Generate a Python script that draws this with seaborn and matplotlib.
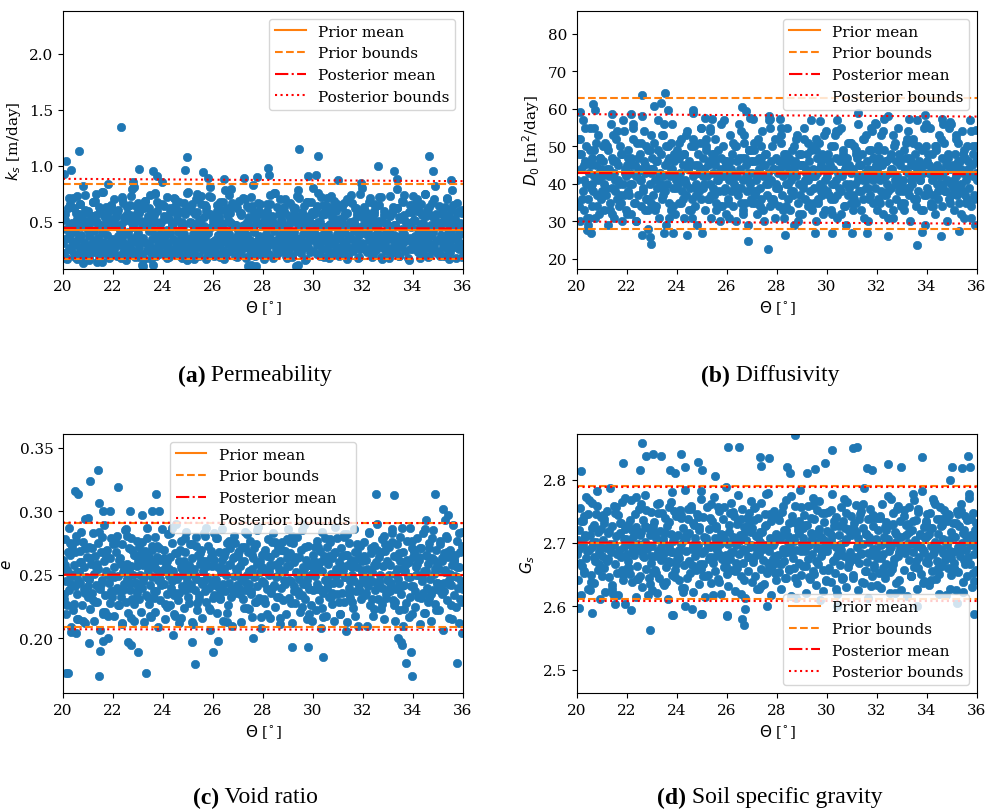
import numpy as np
import pandas as pd
import matplotlib
matplotlib.use("Agg")
import matplotlib.pyplot as plt
import seaborn as sns

# ---------------------------------------------------------------------------
# Sampled friction angle (deg) shared by the four parameter scatters
# ---------------------------------------------------------------------------
theta = np.array("""
20.01 20.04 20.08 20.11 20.13 20.17 20.22 20.24 20.27 20.31 20.35 20.37 20.42 20.44 20.48 20.52 20.55 20.58 20.61 20.66 20.68 20.71 20.75 20.79 20.82 20.84 20.88 20.92 20.95 20.98
21.02 21.06 21.09 21.12 21.16 21.19 21.23 21.25 21.29 21.33 21.36 21.39 21.41 21.46 21.49 21.53 21.56 21.59 21.63 21.65 21.69 21.72 21.76 21.78 21.83 21.86 21.89 21.93 21.96 21.99
22.03 22.05 22.1 22.14 22.16 22.2 22.23 22.27 22.3 22.34 22.37 22.4 22.43 22.47 22.5 22.54 22.57 22.6 22.64 22.67 22.7 22.73 22.77 22.8 22.84 22.87 22.9 22.94 22.97 22.99
23.01 23.04 23.07 23.11 23.15 23.18 23.21 23.25 23.28 23.31 23.34 23.38 23.42 23.45 23.48 23.51 23.55 23.58 23.62 23.66 23.69 23.72 23.74 23.78 23.81 23.85 23.88 23.91 23.95 23.98
24.02 24.06 24.08 24.13 24.16 24.19 24.22 24.26 24.29 24.32 24.36 24.39 24.43 24.46 24.49 24.52 24.56 24.6 24.63 24.65 24.7 24.73 24.76 24.79 24.83 24.86 24.89 24.92 24.96 24.99
25.03 25.05 25.09 25.12 25.15 25.2 25.23 25.26 25.3 25.33 25.35 25.4 25.44 25.47 25.5 25.53 25.57 25.61 25.64 25.68 25.71 25.74 25.77 25.81 25.84 25.87 25.91 25.94 25.97 25.99
26.02 26.05 26.09 26.11 26.15 26.18 26.22 26.25 26.28 26.32 26.35 26.38 26.41 26.45 26.48 26.52 26.55 26.59 26.62 26.65 26.69 26.72 26.75 26.78 26.82 26.85 26.88 26.92 26.95 26.98
27.01 27.04 27.07 27.1 27.14 27.17 27.21 27.24 27.27 27.3 27.34 27.37 27.4 27.44 27.47 27.51 27.54 27.57 27.6 27.64 27.67 27.71 27.74 27.77 27.81 27.84 27.87 27.91 27.94 27.97
28.03 28.06 28.09 28.12 28.16 28.19 28.23 28.26 28.29 28.33 28.36 28.39 28.42 28.46 28.49 28.53 28.56 28.59 28.62 28.66 28.69 28.73 28.76 28.79 28.82 28.86 28.89 28.93 28.96 28.99
29.02 29.05 29.08 29.11 29.15 29.18 29.22 29.25 29.28 29.32 29.35 29.38 29.42 29.45 29.48 29.51 29.55 29.58 29.61 29.65 29.68 29.71 29.75 29.78 29.81 29.85 29.88 29.91 29.95 29.98
30.01 30.04 30.08 30.11 30.14 30.17 30.21 30.24 30.27 30.31 30.34 30.37 30.41 30.44 30.47 30.5 30.54 30.57 30.6 30.64 30.67 30.7 30.74 30.77 30.8 30.84 30.87 30.9 30.94 30.97
31.02 31.05 31.09 31.12 31.15 31.19 31.22 31.25 31.29 31.32 31.35 31.39 31.42 31.45 31.49 31.52 31.55 31.59 31.62 31.65 31.69 31.72 31.75 31.79 31.82 31.85 31.89 31.92 31.95 31.99
32.01 32.04 32.07 32.11 32.14 32.17 32.21 32.24 32.27 32.31 32.34 32.37 32.41 32.44 32.47 32.51 32.54 32.57 32.61 32.64 32.67 32.71 32.74 32.77 32.81 32.84 32.87 32.91 32.94 32.97
33.02 33.06 33.09 33.12 33.16 33.19 33.22 33.26 33.29 33.32 33.36 33.39 33.42 33.46 33.49 33.52 33.56 33.59 33.62 33.66 33.69 33.72 33.76 33.79 33.82 33.86 33.89 33.92 33.96 33.99
34.01 34.05 34.08 34.11 34.15 34.18 34.21 34.25 34.28 34.31 34.35 34.38 34.41 34.45 34.48 34.51 34.55 34.58 34.61 34.65 34.68 34.71 34.75 34.78 34.81 34.85 34.88 34.91 34.95 34.98
35.02 35.05 35.08 35.12 35.15 35.18 35.22 35.25 35.28 35.32 35.35 35.38 35.42 35.45 35.48 35.52 35.55 35.58 35.62 35.65 35.68 35.72 35.75 35.78 35.82 35.85 35.88 35.92 35.95 35.99
20.06 20.15 20.26 20.33 20.46 20.57 20.63 20.74 20.86 20.97 21.04 21.14 21.27 21.38 21.44 21.55 21.67 21.74 21.85 21.94
22.08 22.18 22.25 22.36 22.45 22.52 22.66 22.75 22.83 22.96 23.03 23.13 23.24 23.36 23.47 23.53 23.64 23.77 23.83 23.93
24.04 24.17 24.24 24.35 24.44 24.58 24.67 24.74 24.85 24.94 25.07 25.14 25.25 25.37 25.46 25.55 25.66 25.76 25.86 25.93
26.04 26.13 26.27 26.36 26.43 26.57 26.64 26.73 26.84 26.97 27.06 27.16 27.26 27.33 27.45 27.56 27.66 27.76 27.83 27.95
28.05 28.14 28.25 28.35 28.44 28.55 28.64 28.75 28.85 28.94 29.04 29.16 29.24 29.36 29.46 29.54 29.66 29.74 29.86 29.96
30.06 30.15 30.26 30.35 30.46 30.55 30.65 30.76 30.86 30.95 31.04 31.16 31.26 31.36 31.44 31.56 31.66 31.74 31.84 31.96
32.05 32.16 32.25 32.36 32.45 32.56 32.66 32.75 32.86 32.95 33.04 33.14 33.25 33.35 33.45 33.55 33.65 33.75 33.85 33.95
34.06 34.16 34.26 34.36 34.44 34.56 34.66 34.76 34.86 34.96 35.06 35.14 35.26 35.36 35.44 35.56 35.64 35.74 35.84 35.94
20.03 20.19 20.29 20.39 20.51 20.6 20.69 20.81 20.9 20.99 21.08 21.21 21.31 21.42 21.51 21.61 21.7 21.8 21.91 21.98
22.02 22.12 22.22 22.32 22.41 22.55 22.62 22.72 22.82 22.92 23.06 23.16 23.27 23.39 23.44 23.56 23.67 23.76 23.87 23.97
24.07 24.14 24.27 24.37 24.47 24.57 24.62 24.77 24.87 24.97 25.02 25.17 25.27 25.32 25.42 25.52 25.62 25.72 25.82 25.96
26.07 26.16 26.24 26.33 26.47 26.54 26.67 26.77 26.87 26.94 27.03 27.12 27.22 27.36 27.42 27.52 27.62 27.72 27.86 27.92
28.02 28.17 28.27 28.37 28.47 28.57 28.67 28.72 28.87 28.97 29.07 29.13 29.27 29.34 29.43 29.57 29.63 29.77 29.83 29.93
30.03 30.18 30.28 30.38 30.43 30.58 30.68 30.73 30.83 30.92 31.07 31.14 31.24 31.34 31.47 31.54 31.64 31.77 31.87 31.94
32.03 32.13 32.23 32.33 32.43 32.53 32.63 32.73 32.83 32.93 33.07 33.17 33.27 33.37 33.43 33.57 33.63 33.73 33.87 33.97
34.03 34.13 34.23 34.33 34.47 34.53 34.63 34.73 34.83 34.93 35.03 35.17 35.23 35.34 35.47 35.53 35.67 35.77 35.87 35.97
""".split(), float)

# Permeability k_s [m/day]
ks = np.array("""
.31 .22 .57 .18 .44 .36 .27 .71 .39 .25 .49 .33 .62 .21 .41 .29 .17 .53 .35 .24 .66 .38 .28 .82 .46 .32 .2 .58 .26 .43
.37 .19 .52 .3 .24 .68 .42 .34 .23 .75 .29 .47 .36 .16 .61 .27 .4 .32 .22 .55 .45 .26 .38 .84 .31 .5 .21 .64 .35 .28
.25 .48 .33 .2 .59 .37 .29 .43 .18 .72 .34 .23 .51 .39 .27 .63 .3 .41 .22 .56 .36 .26 .79 .45 .32 .19 .54 .38 .24 .67
.4 .28 .61 .33 .21 .47 .36 .17 .69 .31 .25 .53 .42 .3 .23 .58 .35 .44 .27 .76 .38 .2 .5 .32 .26 .65 .39 .22 .86 .34
.29 .55 .37 .23 .43 .31 .19 .62 .4 .26 .48 .35 .22 .7 .33 .28 .52 .41 .24 .6 .36 .3 .18 .46 .39 .27 .57 .34 .21 .77
.35 .24 .5 .3 .66 .39 .21 .44 .33 .27 .59 .37 .2 .48 .31 .73 .42 .25 .54 .36 .17 .63 .29 .4 .23 .81 .45 .32 .26 .51
.27 .46 .34 .22 .6 .38 .29 .52 .19 .41 .32 .68 .25 .43 .36 .21 .56 .3 .74 .39 .24 .49 .35 .28 .64 .33 .2 .47 .37 .26
.43 .3 .23 .58 .36 .26 .71 .4 .32 .19 .5 .38 .27 .62 .34 .22 .45 .31 .83 .41 .25 .55 .33 .29 .67 .37 .21 .48 .28 .35
.32 .57 .24 .39 .28 .45 .21 .66 .36 .3 .53 .18 .42 .33 .76 .26 .47 .35 .23 .61 .38 .29 .51 .4 .25 .7 .34 .2 .44 .31
.38 .26 .49 .33 .2 .63 .41 .29 .55 .36 .24 .78 .3 .46 .35 .22 .59 .39 .27 .52 .32 .17 .68 .43 .28 .37 .23 .56 .34 .8
.24 .42 .35 .61 .29 .21 .5 .37 .31 .72 .26 .45 .38 .19 .57 .33 .27 .64 .4 .23 .48 .36 .3 .54 .22 .69 .34 .28 .46 .39
.36 .28 .53 .22 .44 .33 .67 .25 .4 .3 .58 .2 .47 .37 .27 .74 .35 .24 .51 .42 .29 .62 .32 .18 .45 .38 .26 .85 .31 .41
.3 .48 .26 .39 .58 .23 .43 .34 .71 .28 .52 .37 .21 .6 .33 .25 .46 .4 .29 .65 .35 .19 .5 .38 .27 .56 .32 .24 .42 .36
.41 .27 .55 .35 .22 .63 .38 .3 .47 .25 .79 .33 .2 .53 .37 .28 .44 .31 .68 .39 .24 .5 .34 .18 .59 .36 .26 .45 .32 .73
.26 .52 .37 .31 .6 .23 .44 .35 .28 .66 .4 .21 .49 .33 .75 .27 .42 .36 .19 .57 .3 .38 .25 .54 .41 .29 .82 .34 .22 .47
.34 .24 .45 .38 .62 .29 .2 .51 .36 .27 .7 .4 .31 .55 .23 .43 .35 .65 .28 .48 .37 .18 .58 .33 .26 .44 .39 .3 .61 .25
.52 .17 .66 .48 .19 .73 .57 .21 .61 .47 .16 .55 .69 .5 .2 .77 .46 .63 .18 .53
.6 .47 .2 .7 .54 .16 .65 .49 .81 .58 .19 .51 .62 .46 .74 .17 .56 .68 .21 .5
.64 .18 .53 .47 .71 .59 .2 .48 .67 .16 .49 .6 .17 .75 .52 .45 .65 .19 .57 .72
.2 .56 .68 .48 .17 .62 .51 .79 .46 .19 .58 .46 .7 .18 .54 .64 .2 .5 .6 .47
.17 .66 .52 .49 .76 .21 .57 .45 .63 .18 .55 .19 .61 .73 .47 .53 .16 .68 .5 .59
.48 .64 .2 .56 .45 .71 .18 .6 .52 .66 .2 .5 .58 .17 .69 .47 .62 .55 .19 .8
.63 .46 .54 .19 .66 .5 .72 .17 .57 .48 .18 .59 .47 .62 .2 .54 .74 .49 .16 .65
.51 .7 .18 .56 .46 .61 .2 .67 .53 .47 .2 .57 .63 .49 .17 .78 .52 .45 .6 .19
.55 .62 .48 .71 .58 .46 .66 .52 .74 .6 .49 .68 .56 .63 .47 .77 .53 .59 .65 .5
.7 .54 .61 .47 .67 .57 .52 .73 .49 .64 .58 .46 .69 .55 .62 .51 .75 .6 .48 .66
.53 .72 .59 .47 .64 .56 .68 .5 .61 .76 .63 .49 .57 .7 .52 .66 .46 .6 .73 .55
.48 .65 .54 .61 .78 .5 .58 .67 .47 .62 .69 .56 .47 .64 .53 .72 .59 .49 .66 .57
.51 .6 .74 .55 .48 .63 .7 .52 .58 .46 .67 .53 .62 .49 .71 .57 .64 .47 .55 .68
.57 .76 .5 .65 .59 .46 .62 .73 .53 .6 .46 .63 .55 .7 .5 .67 .48 .58 .75 .54
.61 .52 .68 .47 .57 .64 .51 .72 .6 .49 .73 .58 .46 .62 .54 .69 .56 .5 .65 .59
.52 .66 .6 .48 .75 .55 .63 .47 .7 .57 .64 .5 .57 .71 .47 .61 .53 .67 .49 .58
""".split(), float)
ks_extra_theta = [22.32, 20.65, 20.12, 20.3, 20.02, 23.03, 23.59, 23.75, 24.88, 24.95, 25.59, 25.79, 26.43,
                  27.25, 27.75, 28.21, 28.25, 29.45, 29.81, 30.12, 30.21, 32.59, 33.25, 33.35, 34.65, 34.81,
                  22.8, 31.0, 35.5, 23.15, 27.4, 27.52, 29.3, 20.8, 21.56, 21.35, 23.6, 27.7, 29.4, 23.2]
ks_extra = [1.344, 1.133, 1.044, 0.964, 0.93, 0.968, 0.95, 0.91, 0.962, 1.075, 0.947, 0.89, 0.88,
            0.888, 0.897, 0.977, 0.917, 1.154, 0.911, 0.917, 1.089, 1.0, 0.95, 0.882, 1.083, 0.95,
            0.86, 0.87, 0.87, 0.112, 0.11, 0.115, 0.11, 0.136, 0.14, 0.145, 0.12, 0.11, 0.115, 0.105]

# Diffusivity D_0 [m^2/day]
d0 = np.array("""
41 35 48 30 52 44 38 57 33 46 40 50 36 29 43 55 39 47 34 42 49 31 45 37 53 41 32 47 44 38
46 33 40 51 37 44 29 49 42 35 56 39 47 31 43 38 52 36 45 41 34 50 48 30 40 54 37 43 33 45
38 49 43 32 47 40 55 35 45 42 30 51 37 44 48 34 41 58 39 46 33 43 50 36 28 44 40 53 35 47
44 37 51 41 34 46 39 57 31 43 48 36 42 53 38 45 29 40 50 35 47 42 33 44 56 39 46 32 41 49
40 47 35 43 52 38 45 31 48 41 37 54 44 33 46 39 50 36 42 59 34 45 40 29 48 43 38 51 36 44
47 39 44 33 50 42 36 46 55 40 31 48 43 37 45 52 35 41 49 38 30 44 47 34 42 57 39 46 32 43
36 45 41 53 38 48 34 43 40 50 30 46 42 37 56 44 39 47 33 41 51 35 45 38 43 29 49 40 46 35
43 38 49 35 46 41 32 52 44 39 47 36 54 42 30 45 40 48 37 43 58 34 46 41 50 36 44 31 47 39
39 46 34 44 51 37 42 48 31 45 40 55 36 43 47 33 41 49 38 44 29 46 42 53 35 40 48 37 45 32
45 40 52 36 43 48 34 41 46 38 57 33 44 50 39 42 30 47 43 35 51 40 45 37 48 32 44 41 54 38
42 48 37 45 33 50 40 44 36 53 41 47 31 43 39 46 55 38 42 49 34 44 40 29 47 37 45 51 35 43
37 44 50 40 35 47 42 56 38 45 33 48 41 36 52 43 39 46 30 44 49 37 42 54 35 41 47 39 45 33
44 36 47 41 53 38 45 32 49 42 37 46 40 58 35 43 48 39 44 31 50 41 36 46 42 55 38 45 34 40
41 49 35 44 39 52 43 37 47 30 45 40 51 36 42 48 34 44 57 38 46 41 33 49 43 37 45 29 50 39
46 38 43 55 35 41 48 37 44 32 50 40 45 36 53 42 39 47 34 43 51 38 45 41 30 48 36 44 56 40
39 45 33 48 42 37 51 44 35 46 40 54 38 43 31 47 41 36 50 44 39 57 34 45 42 48 37 29 46 41
34 48 41 55 31 45 38 51 43 36 50 39 44 32 53 46 40 35 57 42
37 45 52 30 47 41 54 36 49 43 44 33 49 40 56 38 46 51 34 42
47 41 36 53 44 31 50 39 45 55 40 52 45 37 48 33 43 56 38 46
35 46 42 50 39 54 32 47 41 49 51 38 47 34 45 42 57 36 44 40
43 55 33 48 40 46 37 52 30 45 39 44 51 42 35 49 44 38 53 47
46 36 40 54 43 32 48 45 39 51 33 49 45 38 52 41 36 55 47 42
50 42 37 46 31 44 53 40 48 35 38 47 54 41 45 36 50 43 33 56
45 34 42 49 38 52 40 46 55 37 41 53 39 44 48 35 46 31 50 43
52 36 45 31 49 40 55 34 47 42 38 50 33 46 41 54 37 48 44 32
47 40 56 35 43 51 38 45 33 49 34 46 42 53 37 50 31 44 48 39
51 35 48 40 45 33 52 37 43 55 42 49 36 54 39 46 41 34 50 45
31 44 51 38 47 35 53 42 49 36 46 37 43 50 33 48 40 55 35 52
39 53 47 34 44 38 50 45 32 48 55 41 35 49 42 52 36 46 39 33
44 32 50 37 54 43 47 34 51 40 36 48 41 45 31 53 39 49 44 56
49 35 54 42 38 47 33 51 40 46 33 51 39 46 52 36 45 41 55 37
48 43 34 50 40 44 56 38 47 35 40 52 46 32 49 37 43 54 36 50
""".split(), float)
d0_extra_theta = [22.59, 23.52, 23.09, 23.36, 20.65, 20.7, 20.13, 21.39, 22.15, 23.65, 24.65, 26.59, 26.75,
                  25.1, 25.4, 26.9, 27.05, 27.7, 28.1, 31.24, 29.7, 30.4, 32.3, 33.3, 34.6, 34.9, 35.98,
                  33.9, 31.9, 27.65, 26.83, 22.97, 33.59, 34.55, 32.45, 22.6, 22.9, 23.47, 23.85, 20.57,
                  25.0, 28.3, 29.5, 30.2, 31.0, 31.6, 33.8, 20.4, 24.4, 35.3]
d0_extra = [63.8, 64.2, 60.9, 61.6, 61.3, 59.6, 59.3, 58.7, 58.7, 59.8, 59.8, 60.4, 59.5,
            57.6, 57.3, 57.7, 57.2, 57.4, 57.4, 58.9, 56.8, 57.0, 57.4, 57.4, 57.4, 56.5, 54.5,
            58.5, 56.3, 22.7, 24.7, 24.0, 23.7, 26.2, 26.2, 26.4, 25.9, 26.8, 26.8, 27.0,
            27.0, 26.4, 27.0, 27.0, 27.0, 27.0, 27.2, 27.6, 26.5, 27.5]

# Void ratio e [-]
void = np.array("""
.262 .231 .278 .245 .219 .254 .287 .238 .266 .209 .249 .273 .227 .258 .241 .281 .235 .252 .215 .269 .244 .26 .226 .276 .239 .256 .212 .248 .271 .233
.247 .272 .223 .259 .236 .283 .251 .214 .265 .242 .229 .275 .255 .207 .239 .268 .246 .221 .261 .289 .234 .253 .27 .218 .244 .263 .228 .279 .25 .237
.256 .218 .268 .24 .281 .249 .226 .263 .233 .274 .211 .252 .243 .285 .229 .259 .247 .22 .271 .238 .257 .279 .231 .25 .214 .266 .244 .277 .236 .261
.239 .266 .25 .221 .276 .245 .258 .213 .269 .234 .287 .253 .227 .264 .242 .217 .273 .248 .232 .26 .28 .237 .255 .209 .246 .271 .23 .262 .243 .254
.27 .243 .215 .258 .235 .282 .249 .226 .264 .24 .275 .253 .219 .267 .236 .29 .247 .23 .261 .212 .256 .277 .241 .25 .224 .268 .238 .284 .252 .233
.251 .228 .274 .242 .263 .211 .255 .238 .28 .247 .222 .266 .234 .259 .245 .27 .216 .253 .283 .237 .261 .229 .248 .273 .24 .207 .264 .244 .257 .232
.234 .262 .247 .279 .22 .256 .24 .268 .231 .252 .286 .243 .214 .265 .237 .25 .275 .226 .258 .244 .271 .233 .21 .263 .249 .281 .236 .255 .242 .267
.265 .24 .257 .213 .272 .246 .231 .261 .284 .238 .25 .224 .268 .243 .277 .235 .255 .217 .263 .248 .229 .274 .241 .259 .288 .232 .252 .208 .266 .245
.244 .27 .228 .254 .239 .278 .25 .216 .264 .236 .258 .283 .242 .225 .267 .248 .233 .272 .255 .211 .261 .24 .276 .23 .253 .245 .269 .219 .257 .286
.257 .232 .267 .245 .212 .275 .241 .26 .228 .252 .28 .237 .264 .247 .221 .27 .234 .256 .243 .289 .231 .262 .215 .249 .273 .239 .258 .226 .251 .266
.238 .261 .249 .222 .277 .243 .257 .23 .269 .208 .253 .284 .236 .265 .246 .218 .272 .24 .259 .233 .276 .251 .227 .263 .244 .214 .268 .255 .235 .279
.26 .244 .219 .271 .236 .254 .282 .229 .248 .266 .213 .258 .24 .275 .232 .262 .25 .224 .286 .245 .268 .237 .256 .21 .263 .242 .273 .231 .252 .247
.249 .276 .234 .262 .21 .255 .241 .283 .226 .267 .245 .252 .218 .273 .238 .26 .29 .243 .231 .264 .25 .223 .278 .24 .257 .215 .269 .235 .261 .246
.272 .237 .258 .244 .286 .23 .265 .214 .251 .239 .274 .247 .222 .261 .28 .235 .255 .21 .268 .242 .253 .228 .277 .248 .26 .233 .287 .241 .219 .264
.241 .268 .225 .256 .279 .233 .25 .262 .211 .271 .245 .236 .283 .253 .22 .266 .24 .259 .229 .275 .247 .214 .263 .238 .285 .251 .227 .27 .244 .257
.255 .222 .274 .243 .261 .207 .267 .237 .252 .281 .23 .264 .246 .216 .27 .242 .258 .289 .234 .262 .249 .225 .277 .24 .256 .212 .268 .245 .284 .239
.258 .226 .275 .243 .268 .215 .252 .284 .236 .264 .247 .271 .229 .259 .24 .28 .221 .265 .25 .233
.276 .238 .262 .212 .254 .286 .244 .27 .227 .257 .231 .266 .248 .279 .218 .26 .237 .273 .253 .242
.263 .225 .255 .287 .234 .248 .27 .216 .261 .245 .24 .274 .251 .228 .267 .243 .281 .257 .222 .269
.283 .246 .232 .262 .255 .213 .277 .239 .264 .25 .235 .26 .272 .244 .223 .266 .249 .285 .23 .256
.267 .219 .253 .276 .241 .259 .233 .27 .246 .278 .246 .281 .237 .263 .251 .225 .272 .242 .258 .214
.272 .239 .26 .224 .279 .247 .265 .236 .288 .253 .229 .265 .248 .282 .235 .256 .218 .268 .243 .261
.262 .244 .284 .231 .258 .27 .245 .227 .274 .238 .25 .276 .226 .264 .242 .287 .254 .262 .217 .271
.237 .259 .271 .248 .22 .265 .232 .279 .255 .244 .277 .235 .254 .268 .243 .215 .261 .248 .283 .229
.235 .268 .251 .222 .277 .246 .26 .214 .271 .241 .263 .23 .256 .284 .243 .219 .269 .25 .237 .274
.248 .275 .226 .259 .238 .281 .253 .216 .266 .244 .272 .24 .262 .233 .257 .27 .221 .264 .247 .286
.227 .261 .283 .245 .218 .267 .236 .255 .279 .25 .258 .213 .249 .273 .231 .262 .245 .287 .224 .266
.242 .279 .234 .256 .268 .22 .259 .239 .275 .252 .269 .247 .224 .282 .253 .237 .271 .229 .261 .217
.231 .265 .258 .24 .276 .249 .216 .27 .243 .263 .276 .228 .264 .251 .234 .285 .255 .246 .219 .258
.253 .272 .239 .217 .262 .243 .278 .233 .267 .249 .219 .257 .28 .266 .245 .229 .261 .274 .237 .254
.265 .236 .247 .271 .223 .258 .243 .268 .281 .232 .244 .283 .229 .255 .267 .241 .223 .259 .248 .277
.27 .25 .264 .232 .286 .253 .271 .235 .262 .222 .238 .263 .244 .279 .251 .226 .266 .256 .231 .273
""".split(), float)
void_extra_theta = [21.39, 21.08, 20.48, 20.61, 22.19, 21.45, 21.6, 21.9, 22.68, 23.15, 23.72, 23.55, 23.85,
                    32.52, 33.25, 34.88, 35.21, 34.5, 35.3, 21.0, 20.9, 35.4,
                    20.1, 20.2, 21.43, 23.32, 25.28, 25.99, 21.48, 21.05, 21.6, 21.8, 22.6, 22.7, 22.99,
                    25.15, 26.2, 29.15, 29.81, 30.39, 33.5, 33.55, 33.7, 33.9, 33.94, 35.77, 35.96,
                    20.5, 20.3, 24.4, 33.4, 27.6, 31.3]
void_extra = [0.333, 0.324, 0.316, 0.314, 0.319, 0.307, 0.300, 0.300, 0.300, 0.297, 0.314, 0.300, 0.300,
              0.314, 0.313, 0.314, 0.302, 0.293, 0.293, 0.295, 0.294, 0.297,
              0.173, 0.173, 0.170, 0.173, 0.180, 0.189, 0.190, 0.196, 0.198, 0.200, 0.197, 0.195, 0.189,
              0.197, 0.198, 0.193, 0.193, 0.185, 0.197, 0.195, 0.181, 0.189, 0.170, 0.181, 0.204,
              0.204, 0.205, 0.203, 0.200, 0.200, 0.206]

# Soil specific gravity G_s [-]
gs = np.array("""
2.683 2.642 2.721 2.668 2.755 2.617 2.697 2.734 2.655 2.709 2.772 2.676 2.628 2.746 2.689 2.713 2.649 2.763 2.694 2.637 2.728 2.671 2.701 2.782 2.658 2.717 2.686 2.612 2.741 2.679
2.704 2.661 2.738 2.623 2.692 2.751 2.674 2.715 2.646 2.786 2.685 2.727 2.633 2.698 2.758 2.667 2.711 2.652 2.744 2.618 2.689 2.731 2.677 2.765 2.641 2.706 2.694 2.722 2.657 2.682
2.672 2.729 2.651 2.696 2.767 2.638 2.709 2.681 2.745 2.614 2.725 2.664 2.699 2.753 2.647 2.718 2.687 2.631 2.736 2.678 2.702 2.776 2.659 2.691 2.723 2.644 2.712 2.668 2.749 2.626
2.695 2.654 2.733 2.679 2.708 2.621 2.761 2.688 2.645 2.719 2.673 2.748 2.636 2.701 2.684 2.739 2.662 2.727 2.611 2.693 2.756 2.67 2.714 2.649 2.781 2.686 2.706 2.658 2.742 2.675
2.713 2.676 2.641 2.752 2.698 2.629 2.724 2.665 2.705 2.784 2.687 2.644 2.737 2.671 2.716 2.653 2.759 2.69 2.622 2.731 2.68 2.707 2.657 2.746 2.696 2.635 2.72 2.666 2.769 2.684
2.666 2.741 2.687 2.615 2.703 2.757 2.649 2.722 2.678 2.694 2.636 2.735 2.669 2.773 2.708 2.655 2.726 2.689 2.643 2.75 2.699 2.619 2.714 2.674 2.738 2.662 2.704 2.788 2.681 2.651
2.699 2.632 2.717 2.675 2.763 2.658 2.709 2.686 2.743 2.624 2.697 2.73 2.661 2.776 2.682 2.713 2.647 2.754 2.691 2.668 2.725 2.613 2.705 2.739 2.677 2.656 2.748 2.693 2.718 2.639
2.724 2.67 2.755 2.648 2.692 2.711 2.627 2.739 2.683 2.702 2.763 2.659 2.718 2.673 2.635 2.746 2.696 2.729 2.652 2.779 2.688 2.707 2.618 2.734 2.664 2.697 2.751 2.679 2.642 2.714
2.681 2.736 2.654 2.706 2.628 2.749 2.691 2.672 2.721 2.645 2.767 2.685 2.711 2.658 2.732 2.694 2.616 2.743 2.676 2.703 2.66 2.758 2.689 2.637 2.726 2.669 2.715 2.783 2.65 2.698
2.707 2.663 2.744 2.687 2.621 2.729 2.675 2.758 2.697 2.643 2.716 2.682 2.771 2.655 2.738 2.701 2.634 2.692 2.752 2.667 2.722 2.61 2.709 2.684 2.747 2.657 2.733 2.694 2.641 2.719
2.688 2.749 2.66 2.715 2.638 2.703 2.777 2.671 2.727 2.652 2.694 2.741 2.619 2.683 2.712 2.665 2.756 2.698 2.646 2.735 2.679 2.724 2.631 2.706 2.765 2.662 2.719 2.686 2.743 2.673
2.716 2.645 2.731 2.677 2.76 2.693 2.625 2.708 2.668 2.745 2.684 2.639 2.723 2.699 2.786 2.656 2.714 2.67 2.737 2.613 2.702 2.753 2.681 2.648 2.726 2.69 2.661 2.74 2.705 2.633
2.676 2.72 2.653 2.739 2.696 2.629 2.761 2.682 2.71 2.644 2.733 2.667 2.705 2.774 2.687 2.621 2.728 2.693 2.659 2.748 2.674 2.717 2.637 2.701 2.754 2.68 2.642 2.735 2.691 2.709
2.692 2.657 2.742 2.684 2.712 2.616 2.73 2.673 2.756 2.698 2.648 2.721 2.686 2.768 2.662 2.704 2.736 2.627 2.695 2.749 2.678 2.714 2.651 2.782 2.689 2.725 2.64 2.707 2.67 2.745
2.711 2.678 2.634 2.747 2.695 2.723 2.656 2.769 2.685 2.701 2.643 2.738 2.672 2.714 2.62 2.757 2.69 2.729 2.664 2.706 2.752 2.682 2.617 2.735 2.697 2.66 2.744 2.688 2.718 2.65
2.685 2.732 2.668 2.709 2.625 2.751 2.694 2.654 2.727 2.679 2.762 2.7 2.638 2.716 2.673 2.743 2.689 2.647 2.736 2.702 2.771 2.666 2.713 2.631 2.698 2.748 2.683 2.721 2.658 2.69
2.691 2.734 2.652 2.712 2.768 2.638 2.701 2.745 2.667 2.722 2.744 2.674 2.719 2.627 2.696 2.757 2.684 2.731 2.649 2.706
2.661 2.721 2.689 2.773 2.643 2.712 2.698 2.752 2.618 2.68 2.726 2.657 2.748 2.693 2.634 2.716 2.671 2.765 2.703 2.646
2.683 2.739 2.622 2.708 2.753 2.665 2.729 2.687 2.741 2.659 2.71 2.648 2.695 2.762 2.678 2.724 2.639 2.701 2.756 2.672
2.655 2.747 2.703 2.668 2.734 2.62 2.714 2.688 2.729 2.697 2.736 2.681 2.628 2.717 2.694 2.778 2.661 2.742 2.675 2.709
2.668 2.711 2.759 2.645 2.702 2.686 2.733 2.613 2.72 2.757 2.723 2.663 2.696 2.739 2.651 2.714 2.766 2.679 2.705 2.64
2.697 2.752 2.673 2.627 2.726 2.689 2.645 2.748 2.669 2.712 2.649 2.718 2.737 2.682 2.761 2.656 2.709 2.632 2.744 2.691
2.739 2.676 2.654 2.721 2.698 2.769 2.667 2.714 2.685 2.626 2.685 2.728 2.7 2.647 2.735 2.672 2.754 2.693 2.637 2.732
2.714 2.642 2.765 2.696 2.661 2.727 2.684 2.743 2.705 2.676 2.66 2.731 2.69 2.751 2.622 2.711 2.678 2.738 2.652 2.707
2.705 2.664 2.742 2.688 2.626 2.723 2.677 2.758 2.694 2.648 2.731 2.672 2.699 2.619 2.747 2.683 2.715 2.657 2.771 2.701
2.662 2.736 2.69 2.717 2.643 2.762 2.68 2.727 2.695 2.635 2.718 2.652 2.763 2.676 2.706 2.639 2.733 2.685 2.75 2.667
2.689 2.744 2.629 2.712 2.67 2.753 2.697 2.66 2.725 2.782 2.647 2.708 2.674 2.739 2.617 2.693 2.756 2.681 2.713 2.663
2.728 2.686 2.749 2.655 2.703 2.737 2.641 2.719 2.678 2.766 2.674 2.757 2.709 2.632 2.691 2.726 2.668 2.745 2.7 2.653
2.741 2.667 2.684 2.721 2.659 2.774 2.707 2.644 2.734 2.687 2.696 2.729 2.646 2.704 2.76 2.671 2.716 2.692 2.624 2.748
2.658 2.711 2.735 2.679 2.695 2.643 2.769 2.702 2.676 2.722 2.722 2.675 2.698 2.751 2.636 2.714 2.684 2.74 2.665 2.706
2.681 2.743 2.661 2.725 2.706 2.654 2.73 2.621 2.758 2.693 2.752 2.69 2.718 2.648 2.777 2.699 2.661 2.712 2.686 2.735
2.669 2.724 2.683 2.761 2.651 2.737 2.705 2.673 2.745 2.628 2.711 2.656 2.746 2.689 2.72 2.666 2.778 2.697 2.64 2.731
""".split(), float)
gs_extra_theta = [28.72, 22.59, 26.04, 26.49, 22.75, 23.05, 23.35, 24.16, 24.83, 21.85, 27.3, 27.35, 27.69,
                  28.4, 28.5, 30.21, 31.05, 31.2, 32.45, 32.98, 33.79, 35.63, 35.0, 35.4, 20.16, 23.9,
                  23.7, 24.3, 25.0, 29.2, 29.5, 31.6, 31.8, 22.5, 25.5, 29.9, 34.9, 35.7,
                  22.92, 26.67, 26.6, 26.73, 23.83, 25.99, 20.59, 20.07, 22.15, 24.3, 24.6, 24.95,
                  35.87, 23.79, 25.0, 26.0, 27.6, 21.5, 21.9, 33.6, 35.2, 30.4]
gs_extra = [2.870, 2.857, 2.852, 2.852, 2.838, 2.840, 2.838, 2.840, 2.828, 2.826, 2.835, 2.822, 2.834,
            2.820, 2.810, 2.847, 2.850, 2.852, 2.824, 2.820, 2.835, 2.837, 2.820, 2.818, 2.813, 2.810,
            2.815, 2.820, 2.815, 2.810, 2.817, 2.818, 2.815, 2.815, 2.805, 2.826, 2.800, 2.820,
            2.562, 2.570, 2.580, 2.595, 2.586, 2.586, 2.590, 2.597, 2.594, 2.600, 2.595, 2.588,
            2.588, 2.586, 2.588, 2.585, 2.600, 2.603, 2.603, 2.600, 2.605, 2.600]

# Prior / posterior statistics: constant prior values, posterior values at theta = 20 and 36
THETA_RANGE = [20, 36]
prior_mean = {"ks": 0.43, "d0": 43.3, "e": 0.25, "gs": 2.70}
prior_bounds = {"ks": (0.171, 0.838), "d0": (28.0, 62.9), "e": (0.209, 0.291), "gs": (2.611, 2.790)}
post_mean = {"ks": (0.446, 0.442), "d0": (42.9, 42.6), "e": (0.2502, 0.2498), "gs": (2.7005, 2.700)}
post_lower = {"ks": (0.177, 0.173), "d0": (29.95, 29.4), "e": (0.2072, 0.2068), "gs": (2.609, 2.609)}
post_upper = {"ks": (0.884, 0.863), "d0": (58.6, 57.95), "e": (0.2912, 0.2908), "gs": (2.789, 2.789)}

panels = [
    dict(key="ks", y=ks, ex=ks_extra_theta, ey=ks_extra, ylabel=r"$k_s$ [m/day]",
         ylim=(0.08, 2.38), yticks=[0.5, 1.0, 1.5, 2.0], loc="upper right",
         tag="(a)", caption="Permeability"),
    dict(key="d0", y=d0, ex=d0_extra_theta, ey=d0_extra, ylabel=r"$D_0$ [m$^2$/day]",
         ylim=(17.3, 86.1), yticks=[20, 30, 40, 50, 60, 70, 80], loc="upper right",
         tag="(b)", caption="Diffusivity"),
    dict(key="e", y=void, ex=void_extra_theta, ey=void_extra, ylabel=r"$e$",
         ylim=(0.157, 0.361), yticks=[0.20, 0.25, 0.30, 0.35], loc="upper center",
         tag="(c)", caption="Void ratio"),
    dict(key="gs", y=gs, ex=gs_extra_theta, ey=gs_extra, ylabel=r"$G_s$",
         ylim=(2.463, 2.872), yticks=[2.5, 2.6, 2.7, 2.8], loc="lower right",
         tag="(d)", caption="Soil specific gravity"),
]

plt.rcParams["font.family"] = "serif"
plt.rcParams["font.serif"] = ["DejaVu Serif"]
plt.rcParams["mathtext.fontset"] = "dejavusans"
plt.rcParams["font.size"] = 11

W, H = 988, 812
fig = plt.figure(figsize=(W / 100, H / 100), dpi=100)

# axes boxes in pixels: left, top, width, height
boxes = [(63, 12, 400, 258), (577, 12, 400, 258), (63, 435, 400, 259), (577, 435, 400, 259)]
caption_pos = [(255, 376), (770, 376), (255, 798), (770, 798)]

PRIOR_C = "#ff7f0e"
POST_C = "red"
DOT_C = "#1f77b4"

captions = []
for p, (l, t, w, h), cpos in zip(panels, boxes, caption_pos):
    ax = fig.add_axes([l / W, 1 - (t + h) / H, w / W, h / H])
    df = pd.DataFrame({"theta": np.concatenate([theta, p["ex"]]),
                       "value": np.concatenate([p["y"], p["ey"]])})
    sns.scatterplot(data=df, x="theta", y="value", ax=ax, s=36, color=DOT_C,
                    linewidth=0.5, edgecolor=DOT_C, legend=False, zorder=1)
    k = p["key"]
    lo, hi = prior_bounds[k]
    sns.lineplot(x=THETA_RANGE, y=[prior_mean[k]] * 2, ax=ax, color=PRIOR_C, lw=1.5,
                 linestyle="-", label="Prior mean", estimator=None)
    sns.lineplot(x=THETA_RANGE, y=[hi, hi], ax=ax, color=PRIOR_C, lw=1.5,
                 linestyle="--", label="Prior bounds", estimator=None)
    sns.lineplot(x=THETA_RANGE, y=[lo, lo], ax=ax, color=PRIOR_C, lw=1.5,
                 linestyle="--", estimator=None)
    sns.lineplot(x=THETA_RANGE, y=list(post_mean[k]), ax=ax, color=POST_C, lw=1.5,
                 linestyle="-.", label="Posterior mean", estimator=None)
    sns.lineplot(x=THETA_RANGE, y=list(post_upper[k]), ax=ax, color=POST_C, lw=1.5,
                 linestyle=":", label="Posterior bounds", estimator=None)
    sns.lineplot(x=THETA_RANGE, y=list(post_lower[k]), ax=ax, color=POST_C, lw=1.5,
                 linestyle=":", estimator=None)
    ax.set_xlim(20, 36)
    ax.set_xticks([20, 22, 24, 26, 28, 30, 32, 34, 36])
    ax.set_ylim(*p["ylim"])
    ax.set_yticks(p["yticks"])
    ax.set_xlabel(r"$\Theta$ [$^{\circ}$]")
    ax.set_ylabel(p["ylabel"])
    ax.legend(loc=p["loc"], fontsize=11)

    t1 = fig.text(0, 1 - cpos[1] / H, p["tag"], fontfamily="Liberation Serif",
                  fontweight="bold", fontsize=17, va="center", ha="left")
    t2 = fig.text(0, 1 - cpos[1] / H, " " + p["caption"], fontfamily="Liberation Serif",
                  fontsize=17, va="center", ha="left")
    captions.append((t1, t2, cpos[0]))

# centre each caption (bold tag + description) under its panel
fig.canvas.draw()
r = fig.canvas.get_renderer()
for t1, t2, cx in captions:
    w1 = t1.get_window_extent(r).width
    w2 = t2.get_window_extent(r).width
    x0 = cx - (w1 + w2) / 2
    t1.set_x(x0 / W)
    t2.set_x((x0 + w1) / W)

fig.savefig("out.png", dpi=100)
